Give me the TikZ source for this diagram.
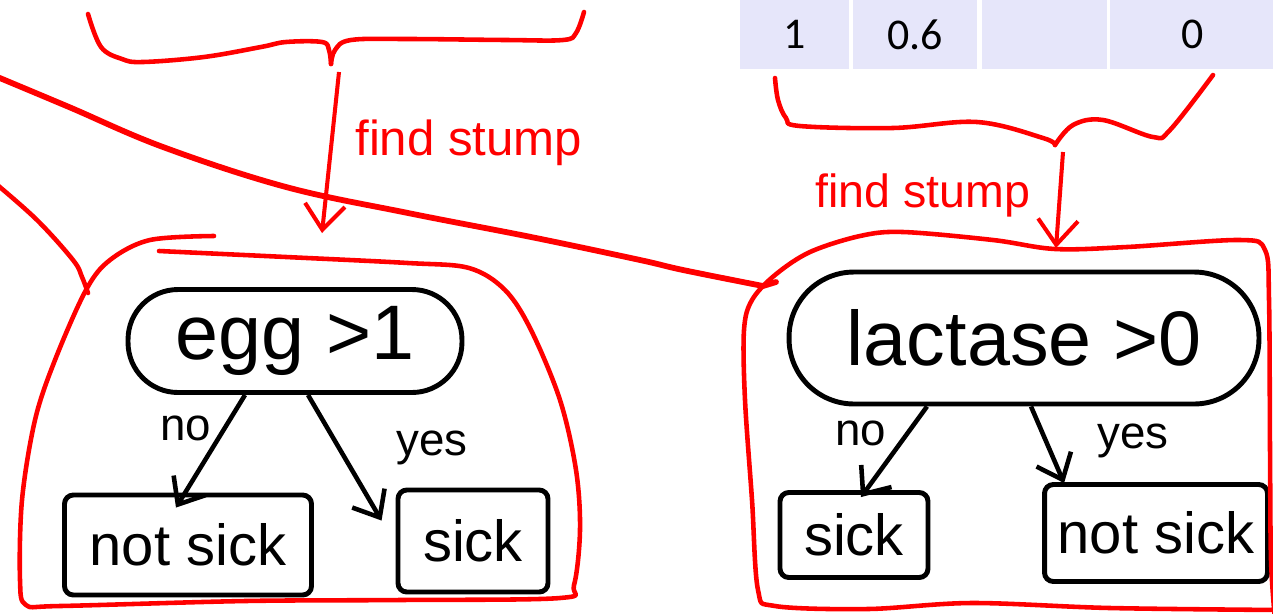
\documentclass[tikz,border=0pt]{standalone}
\usepackage{fontspec}
\setmainfont{Liberation Sans}
\newfontfamily\tablefont{Carlito}
\usetikzlibrary{positioning,arrows.meta}
\usepackage{xcolor}
\definecolor{inkred}{HTML}{FF0000}
\definecolor{celllav}{HTML}{E6E6FA}

\begin{document}
\begin{tikzpicture}[
    x=0.02cm, y=-0.02cm,
    every node/.style={inner sep=0pt},
    test/.style={
      rectangle, draw=black, line width=2.8pt,
      align=center
    },
    leaf/.style={
      rectangle, rounded corners=5pt,
      draw=black, line width=2.8pt,
      font=\fontsize{33}{36}\selectfont
    },
    cell/.style={
      rectangle, fill=celllav,
      minimum height=1.38cm,
      font=\tablefont\fontsize{25}{28}\selectfont
    },
    branch/.style={-{Straight Barb[length=0.45cm,width=0.75cm]}, line width=2.6pt},
    edgelabel/.style={font=\fontsize{26}{30}\selectfont},
    stump/.style={-{Straight Barb[length=0.5cm,width=0.8cm]}, draw=inkred, line width=2.3pt},
    scribble/.style={draw=inkred, line width=2.6pt, line cap=round, line join=round},
    note/.style={text=inkred, font=\fontsize{28}{32}\selectfont, anchor=base west},
  ]

  \clip (0,0) rectangle (1273,613);
  \fill[white] (0,0) rectangle (1273,613);

  % Table row
  \node[cell, minimum width=2.18cm, anchor=north west] (w1) at (740,0) {1};
  \node[cell, minimum width=2.48cm] (w2) [right=0.06cm of w1] {0.6};
  \node[cell, minimum width=2.5cm]  (w3) [right=0.08cm of w2] {};
  \node[cell, minimum width=3.3cm]  (w4) [right=0.06cm of w3] {0};

  % Stumps
  \node[test, minimum width=6.68cm, minimum height=2.06cm, rounded corners=1cm,
        font=\fontsize{44}{48}\selectfont] (egg) at (295,341) {egg >1};
  \node[leaf, minimum width=4.94cm, minimum height=2cm] (notsickL) at (188,545) {not sick};
  \node[leaf, minimum width=3cm, minimum height=2.04cm] (sickL) at (473,541) {sick};

  \node[test, minimum width=9.4cm, minimum height=2.64cm, rounded corners=1.3cm,
        font=\fontsize{44}{48}\selectfont] (lactase) at (1024,338) {lactase >0};
  \node[leaf, minimum width=2.96cm, minimum height=1.7cm] (sickR) at (854,535) {sick};
  \node[leaf, minimum width=4.46cm, minimum height=1.94cm] (notsickR) at (1156,533) {not sick};

  % Branches
  \draw[branch] ([xshift=-1cm]egg.south) --
    node[edgelabel, pos=0.3, left=0.22cm] {no}
    ([xshift=-0.24cm,yshift=-0.3cm]notsickL.north);
  \draw[branch] ([xshift=0.26cm]egg.south) --
    node[edgelabel, pos=0.42, right=1.1cm] {yes}
    ([xshift=-0.28cm,yshift=-0.66cm]sickL.north west);
  \draw[branch] ([xshift=-1.94cm]lactase.south) --
    node[edgelabel, pos=0.3, left=0.38cm] {no}
    ([xshift=0.14cm,yshift=-0.14cm]sickR.north);
  \draw[branch] ([xshift=0.14cm]lactase.south) --
    node[edgelabel, pos=0.45, right=0.98cm] {yes}
    ([xshift=0.44cm,yshift=-0.02cm]notsickR.north west);

  % Red notes
  \draw[scribble] plot[smooth, tension=0.6] coordinates
    {(88,14) (101,47) (122,59) (143,62) (204,57) (261,47) (286,42) (322,42) (329,50) (331,64)};
  \draw[scribble] plot[smooth, tension=0.6] coordinates
    {(331,64) (335,50) (351,40) (408,39) (506,40) (563,40) (576,33) (584,12)};
  \draw[scribble] plot[smooth, tension=0.6] coordinates
    {(775,78) (778,100) (786,118) (800,126) (893,128) (977,122) (1043,138) (1055,145)};
  \draw[scribble] plot[smooth, tension=0.6] coordinates
    {(1055,145) (1073,125) (1103,120) (1153,137) (1170,130) (1213,75)};

  \coordinate (braceL) at (339,72);
  \coordinate (dropL) at (322,233);
  \coordinate (braceR) at (1063,152);
  \coordinate (dropR) at (1056,248);
  \draw[stump] (braceL) -- (dropL);
  \draw[stump] (braceR) -- (dropR);
  \node[note] (findL) at (355,155) {find stump};
  \node[note, font=\fontsize{26.5}{30}\selectfont] (findR) at (815,207) {find stump};

  % Red outlines
  \draw[scribble, line width=3.3pt] plot[smooth, tension=0.6] coordinates
    {(-5,76) (69,107) (163,147) (286,187) (408,213) (531,237) (640,260) (683,270) (763,286)}
    -- (776,282);
  \draw[scribble] plot[smooth, tension=0.6] coordinates
    {(-5,183) (37,220) (73,260) (82,277) (88,293)};
  \draw[scribble] plot[smooth, tension=0.55] coordinates
    {(159,251) (286,257) (408,263) (469,268) (505,290) (531,330) (560,400) (576,470)
     (580,530) (574,585) (560,598) (400,600) (245,601) (60,606) (26,605) (20,580)
     (22,500) (35,420) (55,360) (86,290) (110,260) (150,240) (214,236)};
  \draw[scribble] plot[smooth, tension=0.55] coordinates
    {(1280,610) (1110,608) (972,603) (868,609) (775,606) (758,590) (752,500) (745,400)
     (744,330) (752,300) (775,275) (810,252) (860,236) (903,232) (993,240) (1055,249)
     (1127,247) (1240,240) (1265,250) (1269,300) (1270,450) (1271,560) (1275,620)};

\end{tikzpicture}
\end{document}
